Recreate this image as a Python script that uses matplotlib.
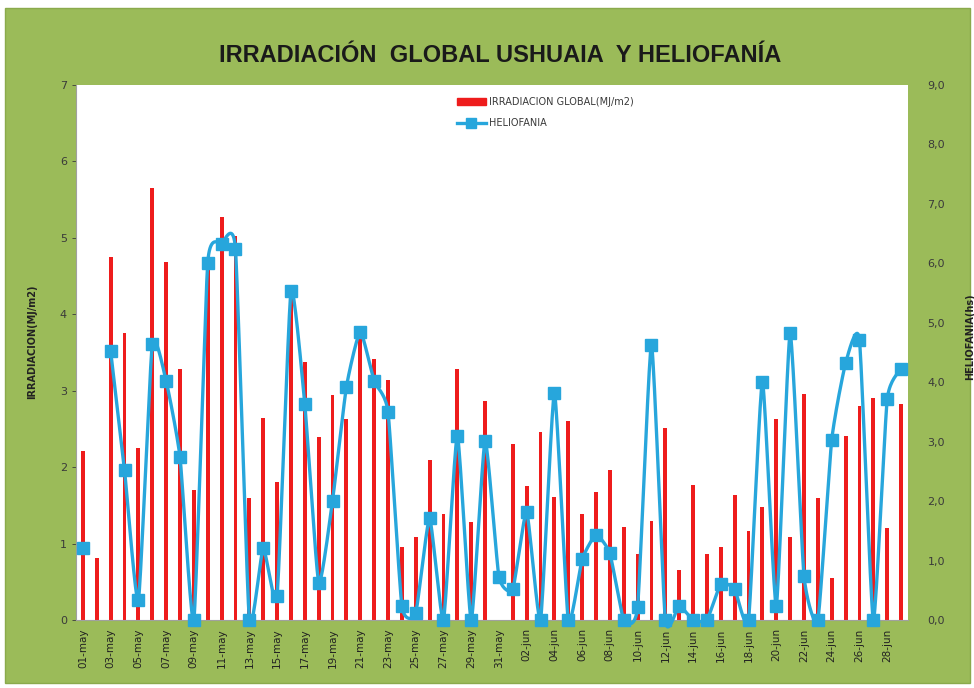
import numpy as np
import matplotlib
matplotlib.use('Agg')
import matplotlib.pyplot as plt
from matplotlib.patches import Rectangle
from matplotlib.lines import Line2D

nan = np.nan

# one value per day, 01-may .. 29-jun
days = [f"{d:02d}-may" for d in range(1, 32)] + [f"{d:02d}-jun" for d in range(1, 30)]

irradiacion = [2.21, 0.81, 4.75, 3.76, 2.25, 5.65, 4.69, 3.29, 1.70, 4.65,
               5.27, 5.03, 1.60, 2.64, 1.80, 4.20, 3.38, 2.39, 2.95, 2.63,
               3.75, 3.41, 3.14, 0.95, 1.09, 2.10, 1.39, 3.28, 1.28, 2.87,
               nan, 2.30, 1.75, 2.46, 1.61, 2.61, 1.39, 1.68, 1.96, 1.22,
               0.87, 1.29, 2.51, 0.66, 1.76, 0.86, 0.96, 1.64, 1.17, 1.48,
               2.63, 1.08, 2.96, 1.60, 0.55, 2.41, 2.80, 2.91, 1.20, 2.83]

heliofania = [1.21, nan, 4.52, 2.52, 0.33, 4.64, 4.02, 2.74, 0.00, 6.01,
              6.33, 6.24, 0.00, 1.21, 0.41, 5.53, 3.63, 0.63, 2.01, 3.92,
              4.85, 4.02, 3.50, 0.24, 0.12, 1.71, 0.00, 3.10, 0.00, 3.01,
              0.73, 0.52, 1.82, 0.00, 3.82, 0.00, 1.02, 1.43, 1.12, 0.00,
              0.22, 4.63, 0.00, 0.24, 0.00, 0.00, 0.61, 0.52, 0.00, 4.01,
              0.24, 4.82, 0.74, 0.00, 3.03, 4.32, 4.71, 0.00, 3.71, 4.22]

GREEN = '#9bbb59'
RED = '#ee1c1c'
BLUE = '#27a6dc'
TXT = '#3a3a3a'


def smooth(xs, ys, n=20, k=1 / 12):
	# slightly smoothed line (bezier pieces, low tension)
	out_x, out_y = [], []
	m = len(xs)
	for i in range(m - 1):
		p0 = np.array([xs[max(i - 1, 0)], ys[max(i - 1, 0)]])
		p1 = np.array([xs[i], ys[i]])
		p2 = np.array([xs[i + 1], ys[i + 1]])
		p3 = np.array([xs[min(i + 2, m - 1)], ys[min(i + 2, m - 1)]])
		c1 = p1 + (p2 - p0) * k
		c2 = p2 - (p3 - p1) * k
		t = np.linspace(0, 1, n)[:, None]
		pts = (1 - t)**3 * p1 + 3 * (1 - t)**2 * t * c1 + 3 * (1 - t) * t**2 * c2 + t**3 * p2
		out_x.extend(pts[:, 0])
		out_y.extend(pts[:, 1])
	return out_x, out_y


fig = plt.figure(figsize=(9.74, 6.88), dpi=100, facecolor='white')
fig.patches.append(Rectangle((5 / 974, 5 / 688), 965 / 974, 675 / 688, transform=fig.transFigure,
                             facecolor=GREEN, edgecolor='#8aaa4c', lw=1, zorder=-5))

ax = fig.add_axes([76 / 974, 1 - 620 / 688, 832 / 974, 535 / 688])
ax.set_facecolor('white')
x = np.arange(len(days))
ax.bar(x, irradiacion, width=0.28, color=RED, zorder=2)
ax.set_xlim(-0.5, len(days) - 0.5)
ax.set_ylim(0, 7)
ax.set_yticks(range(8))
ax.tick_params(axis='y', labelsize=8, colors=TXT, length=3, width=0.6)
ax.set_xticks(x[::2])
ax.set_xticklabels(days[::2], rotation=90, fontsize=7.5, color='#222222')
ax.tick_params(axis='x', length=0, pad=6)
for s in ['top', 'right']:
	ax.spines[s].set_visible(False)
for s in ['left', 'bottom']:
	ax.spines[s].set_color('#a0a0a0')
	ax.spines[s].set_linewidth(0.8)
ax.set_ylabel('IRRADIACION(MJ/m2)', fontsize=7, fontweight='bold', color='#222222')
ax.yaxis.set_label_coords(-0.047, 0.52)

ax2 = ax.twinx()
ax2.set_ylim(0, 9)
ax2.set_yticks(range(10))
ax2.set_yticklabels([f"{v},0" for v in range(10)])
ax2.tick_params(axis='y', labelsize=8, colors=TXT, length=0, pad=14)
for s in ax2.spines.values():
	s.set_visible(False)
ax2.set_ylabel('HELIOFANIA(hs)', fontsize=7, fontweight='bold', color='#222222', rotation=90)
ax2.yaxis.set_label_coords(1.069, 0.53)

h = np.array(heliofania)
valid = ~np.isnan(h)
# draw each run of consecutive values as its own piece
run = []
for i in range(len(h) + 1):
	if i < len(h) and valid[i]:
		run.append(i)
	else:
		if len(run) > 1:
			sx, sy = smooth(x[run], h[run])
			ax2.plot(sx, sy, color=BLUE, lw=2.4, zorder=3, clip_on=False)
		run = []
ax2.plot(x[valid], h[valid], 's', color=BLUE, ms=8, zorder=4, clip_on=False)

handles = [Rectangle((0, 0), 1, 1, color=RED),
           Line2D([], [], color=BLUE, lw=2.4, marker='s', ms=7)]
fig.legend(handles, ['IRRADIACION GLOBAL(MJ/m2)', 'HELIOFANIA'], loc='upper left',
           bbox_to_anchor=(448 / 974, 1 - 88 / 688), frameon=False, fontsize=7,
           labelcolor=TXT, handlelength=3, labelspacing=1.2, handletextpad=0.3)

fig.text(500 / 974, 1 - 55 / 688, 'IRRADIACIÓN  GLOBAL USHUAIA  Y HELIOFANÍA',
         ha='center', va='center', fontsize=17, fontweight='bold', color='#1a1a1a',
         family=['Liberation Sans', 'DejaVu Sans'])

fig.savefig('out.png', dpi=100, facecolor='white')
